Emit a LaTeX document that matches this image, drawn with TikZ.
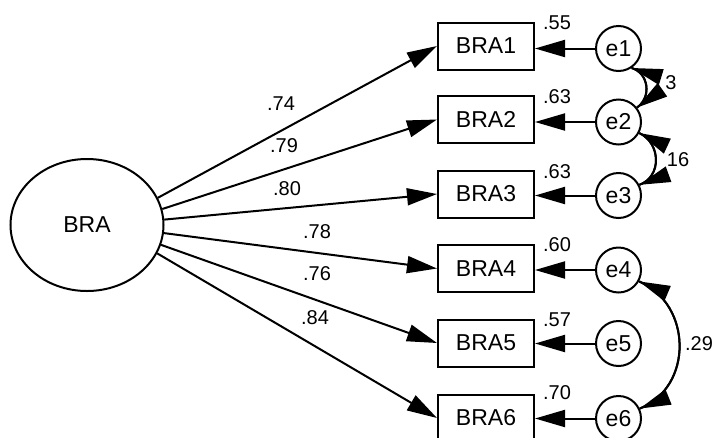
\documentclass[tikz,border=0pt]{standalone}
\usepackage{fontspec}
\setmainfont{Liberation Sans}
\usetikzlibrary{arrows.meta,shapes.geometric,decorations.markings}
\begin{document}
\begin{tikzpicture}[x=1pt,y=1pt,
  every node/.style={inner sep=0pt},
  latent/.style={draw, ellipse, line width=2pt, minimum width=153pt, minimum height=132pt, font=\fontsize{23}{27}\selectfont},
  observed/.style={draw, rectangle, line width=2pt, minimum width=96pt, minimum height=47pt, font=\fontsize{23}{27}\selectfont},
  errvar/.style={draw, circle, line width=2pt, minimum size=45pt, font=\fontsize{23}{27}\selectfont},
  coef/.style={font=\fontsize{20}{23}\selectfont},
  path arrow/.style={line width=2pt, -{Triangle[length=30pt,width=17pt]}},
  % a head at the start of a curve, laid along its tangent
  head at start/.style={line width=2pt,
    decoration={markings,
      mark=at position 0 with {\arrowreversed{Triangle[length=31pt,width=16pt]}}},
    postaction=decorate}
]
\useasboundingbox (0,0) rectangle (712,-437);

% latent factor
\node[latent] (bra) at (87,-225) {BRA};

% indicators
\node[observed] (b1) at (486,-46) {BRA1};
\node[observed] (b2) at (486,-119.5) {BRA2};
\node[observed] (b3) at (486,-194) {BRA3};
\node[observed] (b4) at (486,-268.5) {BRA4};
\node[observed] (b5) at (486,-343) {BRA5};
\node[observed] (b6) at (486,-418) {BRA6};

% error terms
\node[errvar] (e1) at (618.5,-48.5) {e1};
\node[errvar] (e2) at (618.5,-122) {e2};
\node[errvar] (e3) at (618.5,-195.5) {e3};
\node[errvar] (e4) at (618.5,-270) {e4};
\node[errvar] (e5) at (618.5,-343.5) {e5};
\node[errvar] (e6) at (618.5,-418.5) {e6};

% factor loadings
\draw[path arrow] (bra.21.5) -- (b1.west);
\draw[path arrow] (bra.12.6) -- (b2.west);
\draw[path arrow] (bra.4.4) -- (b3.west);
\draw[path arrow] (bra.-6) -- (b4.west);
\draw[path arrow] (bra.-15.4) -- (b5.west);
\draw[path arrow] (bra.-22.6) -- (b6.west);

\node[coef] (l1) at (281,-104) {.74};
\node[coef] (l2) at (284,-146) {.79};
\node[coef] (l3) at (287,-189) {.80};
\node[coef] (l4) at (317,-232) {.78};
\node[coef] (l5) at (317,-274) {.76};
\node[coef] (l6) at (315,-318) {.84};

% error paths (horizontal, at the height of each error term)
\foreach \i in {1,...,6}
  \draw[path arrow] (e\i.west) -- (b\i.east |- e\i.west);

\node[coef] (r1) at (557,-23) {.55};
\node[coef] (r2) at (557,-97) {.63};
\node[coef] (r3) at (557,-172) {.63};
\node[coef] (r4) at (557,-245) {.60};
\node[coef] (r5) at (557,-320) {.57};
\node[coef] (r6) at (557,-393) {.70};

% error covariance labels
\node[coef] (c12) at (671,-83) {3};
\node[coef] (c23) at (678,-160) {16};
\node[coef] (c46) at (699,-344) {.29};

% error covariances: each arc is traced both ways so that
% each end gets its own head
\draw[head at start] (e1.-56) .. controls +(-17:18) and +(35:18) .. (e2.38);
\draw[head at start] (e2.38) .. controls +(35:18) and +(-17:18) .. (e1.-56);

\draw[head at start] (e2.-28) .. controls +(-25:24) and +(20:24) .. (e3.27);
\draw[head at start] (e3.27) .. controls +(20:24) and +(-25:24) .. (e2.-28);

\draw[head at start] (e4.-29) .. controls +(-23:58) and +(22:58) .. (e6.25);
\draw[head at start] (e6.25) .. controls +(22:58) and +(-23:58) .. (e4.-29);
\end{tikzpicture}
\end{document}
